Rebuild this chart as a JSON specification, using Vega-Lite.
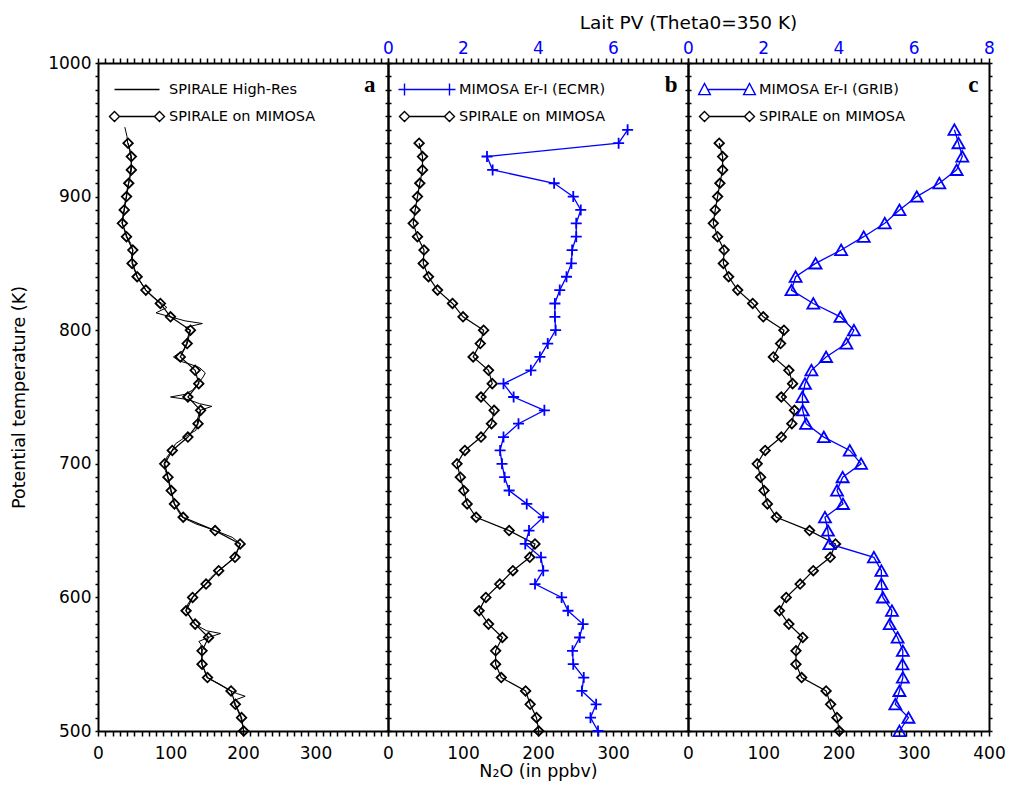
{
  "$schema": "https://vega.github.io/schema/vega-lite/v6.json",
  "padding": {"left": 10, "top": 13, "right": 5, "bottom": 5},
  "bounds": "flush",
  "spacing": 0,
  "background": "white",
  "config": {
    "view": {"stroke": null},
    "axis": {
      "labelFont": "DejaVu Sans", "labelFontSize": 17, "labelColor": "black",
      "titleFont": "DejaVu Sans", "titleFontSize": 17.5, "titleFontWeight": "normal", "titleColor": "black",
      "domainColor": "black", "domainWidth": 2, "tickColor": "black", "tickWidth": 1.5, "ticks": true, "tickOpacity": 1,
      "grid": false, "labelFlush": false, "labelOverlap": false, "labelBound": false
    }
  },
  "resolve": {"scale": {"x": "independent", "y": "independent", "color": "independent"}, "legend": {"color": "independent"}},
  "datasets": {
    "som": [
      {"theta": 500, "n2o": 201}, {"theta": 510, "n2o": 198}, {"theta": 520, "n2o": 189.5}, {"theta": 530, "n2o": 183.5},
      {"theta": 540, "n2o": 151}, {"theta": 550, "n2o": 143.5}, {"theta": 560, "n2o": 143.5}, {"theta": 570, "n2o": 152.5},
      {"theta": 580, "n2o": 134}, {"theta": 590, "n2o": 121.5}, {"theta": 600, "n2o": 130.5}, {"theta": 610, "n2o": 149},
      {"theta": 620, "n2o": 166.5}, {"theta": 630, "n2o": 189}, {"theta": 640, "n2o": 196}, {"theta": 650, "n2o": 161.5},
      {"theta": 660, "n2o": 117.5}, {"theta": 670, "n2o": 105.5}, {"theta": 680, "n2o": 101}, {"theta": 690, "n2o": 96.5},
      {"theta": 700, "n2o": 92}, {"theta": 710, "n2o": 102.5}, {"theta": 720, "n2o": 124}, {"theta": 730, "n2o": 138},
      {"theta": 740, "n2o": 141.5}, {"theta": 750, "n2o": 124}, {"theta": 760, "n2o": 139}, {"theta": 770, "n2o": 134},
      {"theta": 780, "n2o": 113.5}, {"theta": 790, "n2o": 123}, {"theta": 800, "n2o": 127.5}, {"theta": 810, "n2o": 100},
      {"theta": 820, "n2o": 86}, {"theta": 830, "n2o": 66}, {"theta": 840, "n2o": 54}, {"theta": 850, "n2o": 47},
      {"theta": 860, "n2o": 48}, {"theta": 870, "n2o": 39.3}, {"theta": 880, "n2o": 33.6}, {"theta": 890, "n2o": 36.2},
      {"theta": 900, "n2o": 39.3}, {"theta": 910, "n2o": 42.4}, {"theta": 920, "n2o": 46}, {"theta": 930, "n2o": 46},
      {"theta": 940, "n2o": 41.5}
    ],
    "hires": [
      {"theta": 952, "n2o": 37}, {"theta": 945, "n2o": 40}, {"theta": 940, "n2o": 41}, {"theta": 935, "n2o": 44},
      {"theta": 930, "n2o": 45}, {"theta": 925, "n2o": 46}, {"theta": 920, "n2o": 45}, {"theta": 915, "n2o": 44},
      {"theta": 910, "n2o": 42}, {"theta": 905, "n2o": 40}, {"theta": 900, "n2o": 39}, {"theta": 895, "n2o": 37},
      {"theta": 890, "n2o": 36}, {"theta": 885, "n2o": 34}, {"theta": 880, "n2o": 33}, {"theta": 875, "n2o": 37},
      {"theta": 870, "n2o": 40}, {"theta": 865, "n2o": 45}, {"theta": 860, "n2o": 48}, {"theta": 855, "n2o": 46},
      {"theta": 850, "n2o": 48}, {"theta": 845, "n2o": 51}, {"theta": 840, "n2o": 54}, {"theta": 835, "n2o": 60},
      {"theta": 830, "n2o": 66}, {"theta": 825, "n2o": 75}, {"theta": 820, "n2o": 88}, {"theta": 817, "n2o": 95},
      {"theta": 813, "n2o": 80}, {"theta": 810, "n2o": 100}, {"theta": 807, "n2o": 120}, {"theta": 805, "n2o": 144},
      {"theta": 802, "n2o": 120}, {"theta": 800, "n2o": 127}, {"theta": 795, "n2o": 124}, {"theta": 790, "n2o": 122},
      {"theta": 785, "n2o": 118}, {"theta": 780, "n2o": 104}, {"theta": 777, "n2o": 112}, {"theta": 775, "n2o": 125},
      {"theta": 772, "n2o": 140}, {"theta": 768, "n2o": 148}, {"theta": 765, "n2o": 145}, {"theta": 760, "n2o": 138},
      {"theta": 755, "n2o": 130}, {"theta": 752, "n2o": 120}, {"theta": 750, "n2o": 100}, {"theta": 748, "n2o": 125},
      {"theta": 745, "n2o": 140}, {"theta": 743, "n2o": 157}, {"theta": 740, "n2o": 141}, {"theta": 735, "n2o": 138},
      {"theta": 730, "n2o": 137}, {"theta": 725, "n2o": 135}, {"theta": 722, "n2o": 125}, {"theta": 718, "n2o": 115},
      {"theta": 715, "n2o": 107}, {"theta": 710, "n2o": 102}, {"theta": 705, "n2o": 95}, {"theta": 700, "n2o": 91},
      {"theta": 695, "n2o": 93}, {"theta": 690, "n2o": 96}, {"theta": 685, "n2o": 98}, {"theta": 680, "n2o": 100},
      {"theta": 675, "n2o": 103}, {"theta": 670, "n2o": 105}, {"theta": 665, "n2o": 110}, {"theta": 660, "n2o": 116},
      {"theta": 655, "n2o": 135}, {"theta": 650, "n2o": 162}, {"theta": 645, "n2o": 185}, {"theta": 640, "n2o": 197},
      {"theta": 635, "n2o": 192}, {"theta": 630, "n2o": 188}, {"theta": 625, "n2o": 178}, {"theta": 620, "n2o": 166},
      {"theta": 615, "n2o": 156}, {"theta": 610, "n2o": 148}, {"theta": 605, "n2o": 138}, {"theta": 600, "n2o": 130},
      {"theta": 595, "n2o": 124}, {"theta": 590, "n2o": 121}, {"theta": 585, "n2o": 127}, {"theta": 580, "n2o": 133},
      {"theta": 575, "n2o": 150}, {"theta": 573, "n2o": 169}, {"theta": 570, "n2o": 152}, {"theta": 567, "n2o": 139},
      {"theta": 565, "n2o": 142}, {"theta": 560, "n2o": 143}, {"theta": 555, "n2o": 143}, {"theta": 550, "n2o": 143},
      {"theta": 545, "n2o": 147}, {"theta": 540, "n2o": 150}, {"theta": 535, "n2o": 168}, {"theta": 530, "n2o": 183},
      {"theta": 528, "n2o": 192}, {"theta": 526, "n2o": 203}, {"theta": 523, "n2o": 188}, {"theta": 520, "n2o": 188},
      {"theta": 515, "n2o": 193}, {"theta": 510, "n2o": 197}, {"theta": 505, "n2o": 199}, {"theta": 500, "n2o": 201}
    ],
    "ecmr": [
      {"theta": 950, "pv": 6.39}, {"theta": 940, "pv": 6.15}, {"theta": 930, "pv": 2.64}, {"theta": 920, "pv": 2.79},
      {"theta": 910, "pv": 4.43}, {"theta": 900, "pv": 4.94}, {"theta": 890, "pv": 5.14}, {"theta": 880, "pv": 5.02},
      {"theta": 870, "pv": 5.02}, {"theta": 860, "pv": 4.91}, {"theta": 850, "pv": 4.89}, {"theta": 840, "pv": 4.76},
      {"theta": 830, "pv": 4.58}, {"theta": 820, "pv": 4.45}, {"theta": 810, "pv": 4.45}, {"theta": 800, "pv": 4.47},
      {"theta": 790, "pv": 4.26}, {"theta": 780, "pv": 4.05}, {"theta": 770, "pv": 3.81}, {"theta": 760, "pv": 3.08},
      {"theta": 750, "pv": 3.35}, {"theta": 740, "pv": 4.17}, {"theta": 730, "pv": 3.48}, {"theta": 720, "pv": 3.08},
      {"theta": 710, "pv": 2.99}, {"theta": 700, "pv": 3.04}, {"theta": 690, "pv": 3.11}, {"theta": 680, "pv": 3.23},
      {"theta": 670, "pv": 3.7}, {"theta": 660, "pv": 4.14}, {"theta": 650, "pv": 3.76}, {"theta": 640, "pv": 3.66},
      {"theta": 630, "pv": 4.08}, {"theta": 620, "pv": 4.14}, {"theta": 610, "pv": 3.92}, {"theta": 600, "pv": 4.63},
      {"theta": 590, "pv": 4.8}, {"theta": 580, "pv": 5.2}, {"theta": 570, "pv": 5.11}, {"theta": 560, "pv": 4.92},
      {"theta": 550, "pv": 4.94}, {"theta": 540, "pv": 5.22}, {"theta": 530, "pv": 5.17}, {"theta": 520, "pv": 5.55},
      {"theta": 510, "pv": 5.4}, {"theta": 500, "pv": 5.6}
    ],
    "grib": [
      {"theta": 950, "pv": 7.08}, {"theta": 940, "pv": 7.19}, {"theta": 930, "pv": 7.29}, {"theta": 920, "pv": 7.14},
      {"theta": 910, "pv": 6.68}, {"theta": 900, "pv": 6.08}, {"theta": 890, "pv": 5.62}, {"theta": 880, "pv": 5.23},
      {"theta": 870, "pv": 4.67}, {"theta": 860, "pv": 4.07}, {"theta": 850, "pv": 3.39}, {"theta": 840, "pv": 2.86},
      {"theta": 830, "pv": 2.75}, {"theta": 820, "pv": 3.33}, {"theta": 810, "pv": 4.05}, {"theta": 800, "pv": 4.41},
      {"theta": 790, "pv": 4.21}, {"theta": 780, "pv": 3.67}, {"theta": 770, "pv": 3.28}, {"theta": 760, "pv": 3.11},
      {"theta": 750, "pv": 3.04}, {"theta": 740, "pv": 3.05}, {"theta": 730, "pv": 3.14}, {"theta": 720, "pv": 3.61},
      {"theta": 710, "pv": 4.3}, {"theta": 700, "pv": 4.6}, {"theta": 690, "pv": 4.11}, {"theta": 680, "pv": 3.96},
      {"theta": 670, "pv": 4.12}, {"theta": 660, "pv": 3.64}, {"theta": 650, "pv": 3.72}, {"theta": 640, "pv": 3.76},
      {"theta": 630, "pv": 4.94}, {"theta": 620, "pv": 5.14}, {"theta": 610, "pv": 5.14}, {"theta": 600, "pv": 5.18},
      {"theta": 590, "pv": 5.42}, {"theta": 580, "pv": 5.36}, {"theta": 570, "pv": 5.57}, {"theta": 560, "pv": 5.71},
      {"theta": 550, "pv": 5.7}, {"theta": 540, "pv": 5.71}, {"theta": 530, "pv": 5.62}, {"theta": 520, "pv": 5.51},
      {"theta": 510, "pv": 5.86}, {"theta": 500, "pv": 5.62}
    ]
  },
  "hconcat": [
    {
      "width": 290, "height": 668,
      "resolve": {"axis": {"x": "independent", "y": "independent"}},
      "layer": [
        {
          "data": {"name": "hires"},
          "mark": {"type": "line", "strokeWidth": 1},
          "encoding": {
            "x": {"field": "n2o", "type": "quantitative", "scale": {"domain": [0, 400], "nice": false, "zero": false},
              "axis": {"orient": "bottom", "title": null, "format": "d", "ticks": true,
                "values": [0,10,20,30,40,50,60,70,80,90,100,110,120,130,140,150,160,170,180,190,200,210,220,230,240,250,260,270,280,290,300,310,320,330,340,350,360,370,380,390,400],
                "labelExpr": "datum.value % 100 === 0 && datum.value < 400 ? datum.label : ''",
                "tickSize": 5, "labelPadding": 9}},
            "y": {"field": "theta", "type": "quantitative", "scale": {"domain": [500, 1000], "nice": false, "zero": false},
              "axis": {"orient": "left", "format": "d", "ticks": true,
                "values": [500,510,520,530,540,550,560,570,580,590,600,610,620,630,640,650,660,670,680,690,700,710,720,730,740,750,760,770,780,790,800,810,820,830,840,850,860,870,880,890,900,910,920,930,940,950,960,970,980,990,1000],
                "labelExpr": "datum.value % 100 === 0 ? datum.label : ''",
                "tickSize": 3, "labelPadding": 4,
                "title": "Potential temperature (K)", "titleX": -79, "titleBaseline": "middle"}},
            "order": {"field": "theta", "type": "quantitative"},
            "color": {"datum": "SPIRALE High-Res", "type": "nominal",
              "scale": {"domain": ["SPIRALE High-Res", "SPIRALE on MIMOSA"], "range": ["black", "black"]},
              "legend": {"orient": "none", "legendX": 8, "legendY": 13, "title": null, "symbolSize": 3600, "clipHeight": 27, "rowPadding": 0,
                "labelOffset": 1, "labelFont": "DejaVu Sans", "labelFontSize": 14.5, "labelColor": "black", "labelLimit": 300,
                "encode": {"symbols": {"update": {
                  "shape": {"signal": "datum.value === 'SPIRALE High-Res' ? 'M-0.75,0H0.75' : datum.value === 'SPIRALE on MIMOSA' ? 'M-0.583,0H0.583M-0.917,0L-0.75,-0.167L-0.583,0L-0.75,0.167ZM0.583,0L0.75,-0.167L0.917,0L0.75,0.167Z' : datum.value === 'MIMOSA Er-I (ECMR)' ? 'M-0.75,0H0.75M-0.95,0H-0.55M-0.75,-0.2V0.2M0.55,0H0.95M0.75,-0.2V0.2' : 'M-0.645,0H0.645M-0.945,0.17L-0.75,-0.2L-0.555,0.17ZM0.555,0.17L0.75,-0.2L0.945,0.17Z'"},
                  "fill": {"value": "transparent"}, "strokeWidth": {"value": 1.4}}}}}}
          }
        },
        {
          "data": {"name": "som"},
          "mark": {"type": "line", "strokeWidth": 1.2},
          "encoding": {
            "x": {"field": "n2o", "type": "quantitative",
              "axis": {"orient": "top", "title": null, "labels": false, "ticks": true,
                "values": [0,10,20,30,40,50,60,70,80,90,100,110,120,130,140,150,160,170,180,190,200,210,220,230,240,250,260,270,280,290,300,310,320,330,340,350,360,370,380,390,400],
                "tickSize": 5}},
            "y": {"field": "theta", "type": "quantitative",
              "axis": {"orient": "right", "labels": false, "ticks": true,
                "values": [500,510,520,530,540,550,560,570,580,590,600,610,620,630,640,650,660,670,680,690,700,710,720,730,740,750,760,770,780,790,800,810,820,830,840,850,860,870,880,890,900,910,920,930,940,950,960,970,980,990,1000],
                "tickSize": 3,
                "title": "a", "titleAngle": 0, "titleX": -13, "titleY": 28, "titleAlign": "right", "titleBaseline": "alphabetic",
                "titleFont": "Liberation Serif", "titleFontWeight": "bold", "titleFontSize": 23}},
            "order": {"field": "theta", "type": "quantitative"},
            "color": {"datum": "SPIRALE on MIMOSA", "type": "nominal"}
          }
        },
        {
          "data": {"name": "som"},
          "mark": {"type": "point", "shape": "diamond", "filled": false, "color": "black", "size": 90, "strokeWidth": 1.8, "opacity": 1},
          "encoding": {
            "x": {"field": "n2o", "type": "quantitative", "axis": null},
            "y": {"field": "theta", "type": "quantitative", "axis": null}
          }
        }
      ]
    },
    {
      "width": 300, "height": 668,
      "resolve": {"scale": {"x": "independent"}, "axis": {"x": "independent", "y": "independent"}},
      "layer": [
        {
          "data": {"name": "som"},
          "mark": {"type": "line", "strokeWidth": 1.2},
          "encoding": {
            "x": {"field": "n2o", "type": "quantitative", "scale": {"domain": [0, 400], "nice": false, "zero": false},
              "axis": {"orient": "bottom", "format": "d", "ticks": true,
                "values": [0,10,20,30,40,50,60,70,80,90,100,110,120,130,140,150,160,170,180,190,200,210,220,230,240,250,260,270,280,290,300,310,320,330,340,350,360,370,380,390,400],
                "labelExpr": "datum.value % 100 === 0 && datum.value < 400 ? datum.label : ''",
                "tickSize": 5, "labelPadding": 9,
                "title": "N₂O (in ppbv)", "titleY": 45, "titleBaseline": "alphabetic"}},
            "y": {"field": "theta", "type": "quantitative", "scale": {"domain": [500, 1000], "nice": false, "zero": false},
              "axis": {"orient": "left", "labels": false, "title": null, "ticks": true,
                "values": [500,510,520,530,540,550,560,570,580,590,600,610,620,630,640,650,660,670,680,690,700,710,720,730,740,750,760,770,780,790,800,810,820,830,840,850,860,870,880,890,900,910,920,930,940,950,960,970,980,990,1000],
                "tickSize": 3}},
            "order": {"field": "theta", "type": "quantitative"},
            "color": {"datum": "SPIRALE on MIMOSA", "type": "nominal",
              "scale": {"domain": ["MIMOSA Er-I (ECMR)", "SPIRALE on MIMOSA"], "range": ["#0000ff", "black"]},
              "legend": {"orient": "none", "legendX": 8, "legendY": 13, "title": null, "symbolSize": 3600, "clipHeight": 27, "rowPadding": 0,
                "labelOffset": 1, "labelFont": "DejaVu Sans", "labelFontSize": 14.5, "labelColor": "black", "labelLimit": 300,
                "encode": {"symbols": {"update": {
                  "shape": {"signal": "datum.value === 'SPIRALE High-Res' ? 'M-0.75,0H0.75' : datum.value === 'SPIRALE on MIMOSA' ? 'M-0.583,0H0.583M-0.917,0L-0.75,-0.167L-0.583,0L-0.75,0.167ZM0.583,0L0.75,-0.167L0.917,0L0.75,0.167Z' : datum.value === 'MIMOSA Er-I (ECMR)' ? 'M-0.75,0H0.75M-0.95,0H-0.55M-0.75,-0.2V0.2M0.55,0H0.95M0.75,-0.2V0.2' : 'M-0.645,0H0.645M-0.945,0.17L-0.75,-0.2L-0.555,0.17ZM0.555,0.17L0.75,-0.2L0.945,0.17Z'"},
                  "fill": {"value": "transparent"}, "strokeWidth": {"value": 1.4}}}}}}
          }
        },
        {
          "data": {"name": "som"},
          "mark": {"type": "point", "shape": "diamond", "filled": false, "color": "black", "size": 90, "strokeWidth": 1.8, "opacity": 1},
          "encoding": {
            "x": {"field": "n2o", "type": "quantitative", "scale": {"domain": [0, 400], "nice": false, "zero": false}, "axis": null},
            "y": {"field": "theta", "type": "quantitative", "axis": null}
          }
        },
        {
          "data": {"name": "ecmr"},
          "mark": {"type": "line", "strokeWidth": 1.3},
          "encoding": {
            "x": {"field": "pv", "type": "quantitative", "scale": {"domain": [0, 8], "nice": false, "zero": false},
              "axis": {"orient": "top", "title": null, "ticks": true,
                "values": [0,0.2,0.4,0.6,0.8,1,1.2,1.4,1.6,1.8,2,2.2,2.4,2.6,2.8,3,3.2,3.4,3.6,3.8,4,4.2,4.4,4.6,4.8,5,5.2,5.4,5.6,5.8,6,6.2,6.4,6.6,6.8,7,7.2,7.4,7.6,7.8,8],
                "labelExpr": "abs(datum.value - 2 * round(datum.value / 2)) < 0.01 && datum.value < 7.9 ? format(round(datum.value), 'd') : ''",
                "labelColor": "#0000ff",
                "tickSize": 5, "labelPadding": 1}},
            "y": {"field": "theta", "type": "quantitative",
              "axis": {"orient": "right", "labels": false, "ticks": true,
                "values": [500,510,520,530,540,550,560,570,580,590,600,610,620,630,640,650,660,670,680,690,700,710,720,730,740,750,760,770,780,790,800,810,820,830,840,850,860,870,880,890,900,910,920,930,940,950,960,970,980,990,1000],
                "tickSize": 3,
                "title": "b", "titleAngle": 0, "titleX": -11, "titleY": 28, "titleAlign": "right", "titleBaseline": "alphabetic",
                "titleFont": "Liberation Serif", "titleFontWeight": "bold", "titleFontSize": 23}},
            "order": {"field": "theta", "type": "quantitative"},
            "color": {"datum": "MIMOSA Er-I (ECMR)", "type": "nominal"}
          }
        },
        {
          "data": {"name": "ecmr"},
          "mark": {"type": "point", "shape": "M-1,0H1M0,-1V1", "filled": false, "color": "#0000ff", "size": 121, "strokeWidth": 1.8, "opacity": 1},
          "encoding": {
            "x": {"field": "pv", "type": "quantitative", "scale": {"domain": [0, 8], "nice": false, "zero": false}, "axis": null},
            "y": {"field": "theta", "type": "quantitative", "axis": null}
          }
        }
      ]
    },
    {
      "width": 301, "height": 668,
      "resolve": {"scale": {"x": "independent"}, "axis": {"x": "independent", "y": "independent"}},
      "layer": [
        {
          "data": {"name": "som"},
          "mark": {"type": "line", "strokeWidth": 1.2},
          "encoding": {
            "x": {"field": "n2o", "type": "quantitative", "scale": {"domain": [0, 400], "nice": false, "zero": false},
              "axis": {"orient": "bottom", "format": "d", "title": null, "ticks": true,
                "values": [0,10,20,30,40,50,60,70,80,90,100,110,120,130,140,150,160,170,180,190,200,210,220,230,240,250,260,270,280,290,300,310,320,330,340,350,360,370,380,390,400],
                "labelExpr": "datum.value % 100 === 0 ? datum.label : ''",
                "tickSize": 5, "labelPadding": 9}},
            "y": {"field": "theta", "type": "quantitative", "scale": {"domain": [500, 1000], "nice": false, "zero": false},
              "axis": {"orient": "left", "labels": false, "title": null, "ticks": true,
                "values": [500,510,520,530,540,550,560,570,580,590,600,610,620,630,640,650,660,670,680,690,700,710,720,730,740,750,760,770,780,790,800,810,820,830,840,850,860,870,880,890,900,910,920,930,940,950,960,970,980,990,1000],
                "tickSize": 3}},
            "order": {"field": "theta", "type": "quantitative"},
            "color": {"datum": "SPIRALE on MIMOSA", "type": "nominal",
              "scale": {"domain": ["MIMOSA Er-I (GRIB)", "SPIRALE on MIMOSA"], "range": ["#0000ff", "black"]},
              "legend": {"orient": "none", "legendX": 8, "legendY": 13, "title": null, "symbolSize": 3600, "clipHeight": 27, "rowPadding": 0,
                "labelOffset": 1, "labelFont": "DejaVu Sans", "labelFontSize": 14.5, "labelColor": "black", "labelLimit": 300,
                "encode": {"symbols": {"update": {
                  "shape": {"signal": "datum.value === 'SPIRALE High-Res' ? 'M-0.75,0H0.75' : datum.value === 'SPIRALE on MIMOSA' ? 'M-0.583,0H0.583M-0.917,0L-0.75,-0.167L-0.583,0L-0.75,0.167ZM0.583,0L0.75,-0.167L0.917,0L0.75,0.167Z' : datum.value === 'MIMOSA Er-I (ECMR)' ? 'M-0.75,0H0.75M-0.95,0H-0.55M-0.75,-0.2V0.2M0.55,0H0.95M0.75,-0.2V0.2' : 'M-0.645,0H0.645M-0.945,0.17L-0.75,-0.2L-0.555,0.17ZM0.555,0.17L0.75,-0.2L0.945,0.17Z'"},
                  "fill": {"value": "transparent"}, "strokeWidth": {"value": 1.4}}}}}}
          }
        },
        {
          "data": {"name": "som"},
          "mark": {"type": "point", "shape": "diamond", "filled": false, "color": "black", "size": 90, "strokeWidth": 1.8, "opacity": 1},
          "encoding": {
            "x": {"field": "n2o", "type": "quantitative", "scale": {"domain": [0, 400], "nice": false, "zero": false}, "axis": null},
            "y": {"field": "theta", "type": "quantitative", "axis": null}
          }
        },
        {
          "data": {"name": "grib"},
          "mark": {"type": "line", "strokeWidth": 1.3},
          "encoding": {
            "x": {"field": "pv", "type": "quantitative", "scale": {"domain": [0, 8], "nice": false, "zero": false},
              "axis": {"orient": "top", "ticks": true,
                "values": [0,0.2,0.4,0.6,0.8,1,1.2,1.4,1.6,1.8,2,2.2,2.4,2.6,2.8,3,3.2,3.4,3.6,3.8,4,4.2,4.4,4.6,4.8,5,5.2,5.4,5.6,5.8,6,6.2,6.4,6.6,6.8,7,7.2,7.4,7.6,7.8,8],
                "labelExpr": "abs(datum.value - 2 * round(datum.value / 2)) < 0.01 ? format(round(datum.value), 'd') : ''",
                "labelColor": "#0000ff",
                "tickSize": 5, "labelPadding": 1,
                "title": "Lait PV (Theta0=350 K)", "titleX": 0, "titleY": -35, "titleAlign": "center", "titleBaseline": "alphabetic", "titleFontSize": 18.5}},
            "y": {"field": "theta", "type": "quantitative",
              "axis": {"orient": "right", "labels": false, "ticks": true,
                "values": [500,510,520,530,540,550,560,570,580,590,600,610,620,630,640,650,660,670,680,690,700,710,720,730,740,750,760,770,780,790,800,810,820,830,840,850,860,870,880,890,900,910,920,930,940,950,960,970,980,990,1000],
                "tickSize": 3,
                "title": "c", "titleAngle": 0, "titleX": -11, "titleY": 28, "titleAlign": "right", "titleBaseline": "alphabetic",
                "titleFont": "Liberation Serif", "titleFontWeight": "bold", "titleFontSize": 23}},
            "order": {"field": "theta", "type": "quantitative"},
            "color": {"datum": "MIMOSA Er-I (GRIB)", "type": "nominal"}
          }
        },
        {
          "data": {"name": "grib"},
          "mark": {"type": "point", "shape": "M-1,0.85L0,-0.9L1,0.85Z", "filled": false, "color": "#0000ff", "size": 144, "strokeWidth": 1.8, "opacity": 1},
          "encoding": {
            "x": {"field": "pv", "type": "quantitative", "scale": {"domain": [0, 8], "nice": false, "zero": false}, "axis": null},
            "y": {"field": "theta", "type": "quantitative", "axis": null}
          }
        }
      ]
    }
  ]
}
